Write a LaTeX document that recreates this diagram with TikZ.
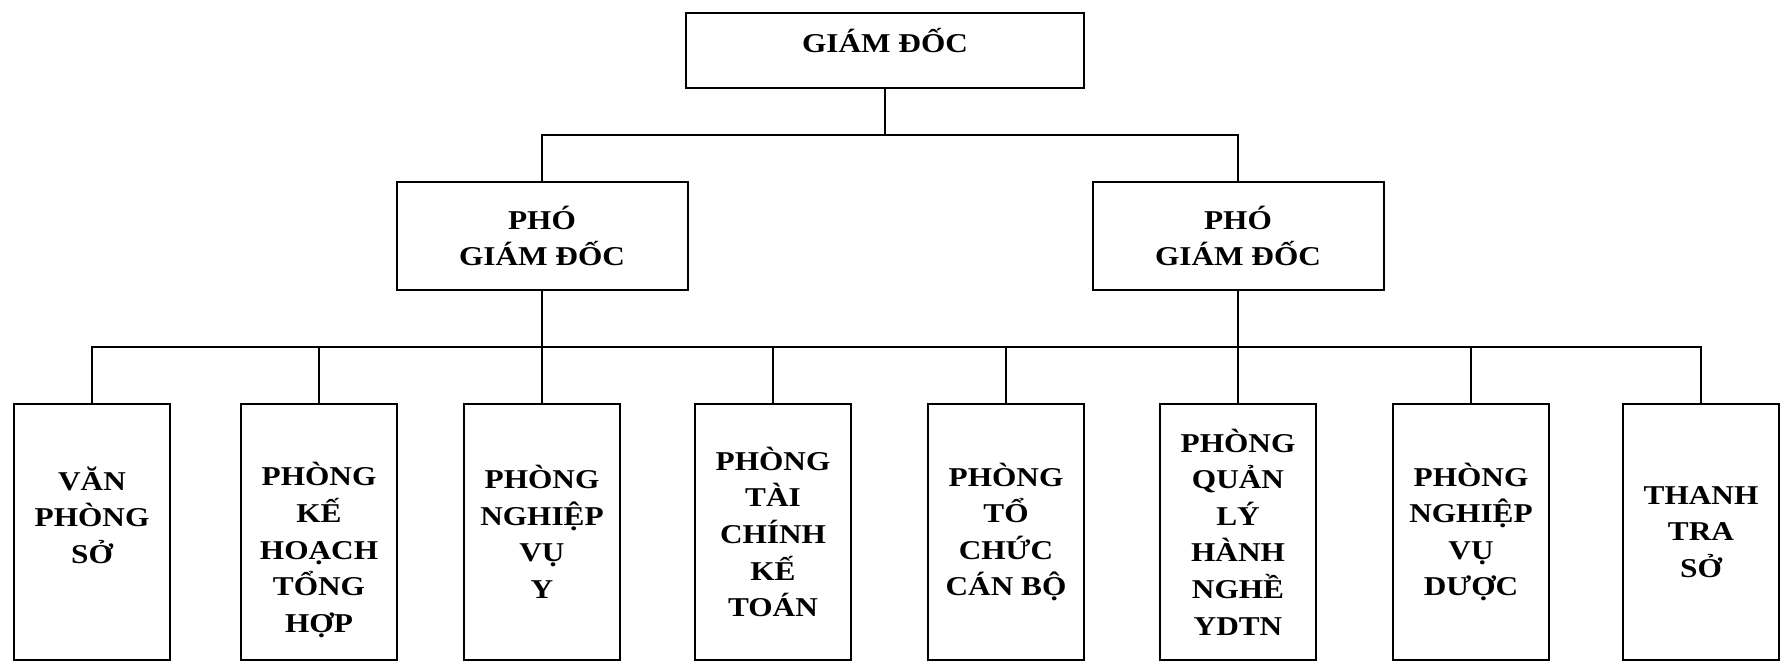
\documentclass[tikz,border=0pt]{standalone}
\usepackage{fontspec}
\setmainfont{Liberation Serif}[FakeStretch=1.15]
\usetikzlibrary{calc, positioning}

\begin{document}
\begin{tikzpicture}[box/.style={draw=black, line width=1pt, rectangle, align=center, inner sep=2pt,
		font=\fontsize{13.6}{18.3}\selectfont\bfseries},
	dept/.style={box, minimum width=78pt, minimum height=128pt},
	deputy/.style={box, minimum width=145.5pt, minimum height=54pt},
	link/.style={line width=1pt}, node distance = 36pt]
		\node (p1) [dept, text depth=17pt] {VĂN\\PHÒNG\\SỞ};
		\node (p2) [dept, text height=103pt, right=34.5pt of p1] {PHÒNG\\KẾ\\HOẠCH\\TỔNG\\HỢP};
		\node (p3) [dept, right=32.5pt of p2] {PHÒNG\\NGHIỆP\\VỤ\\Y};
		\node (p4) [dept, right=36.5pt of p3] {PHÒNG\\TÀI\\CHÍNH\\KẾ\\TOÁN};
		\node (p5) [dept, right=37.5pt of p4] {PHÒNG\\TỔ\\CHỨC\\CÁN BỘ};
		\node (p6) [dept, right=37pt of p5] {PHÒNG\\QUẢN\\LÝ\\HÀNH\\NGHỀ\\YDTN};
		\node (p7) [dept, right=37.5pt of p6] {PHÒNG\\NGHIỆP\\VỤ\\DƯỢC};
		\node (p8) [dept, right= of p7] {THANH\\TRA\\SỞ};
		\node (pgd1) [deputy, above=56pt of p3] {PHÓ\\GIÁM ĐỐC};
		\node (pgd2) [deputy, above=56pt of p6] {PHÓ\\GIÁM ĐỐC};
		\coordinate (mid) at ($(pgd1.north)!0.5!(pgd2.north)$);
		\node (gd) [box, minimum width=199pt, minimum height=37.5pt, text depth=10pt, above=46pt of mid, xshift=-2.5pt] {GIÁM ĐỐC};
		% bus lines
		\coordinate (bus1) at ($(gd.south)!0.5!(gd.south |- pgd1.north)$);
		\coordinate (bus2) at ($(p1.north)!0.5!(p1.north |- pgd1.south)$);
		\draw[link] (gd.south) -- (bus1);
		\draw[link] (pgd1.north) |- (bus1) -| (pgd2.north);
		\draw[link] (p1.north) -- (bus2) -| (p8.north);
		\foreach \n in {2,...,7}
		    \draw[link] (p\n.north) -- (p\n.north |- bus2);
		\draw[link] (pgd1.south) -- (pgd1.south |- bus2);
		\draw[link] (pgd2.south) -- (pgd2.south |- bus2);
		\pgfresetboundingbox
		\useasboundingbox ($(p1)+(-46pt,-67pt)$) rectangle ($(p1)+(845.5pt,266pt)$);
\end{tikzpicture}
\end{document}
